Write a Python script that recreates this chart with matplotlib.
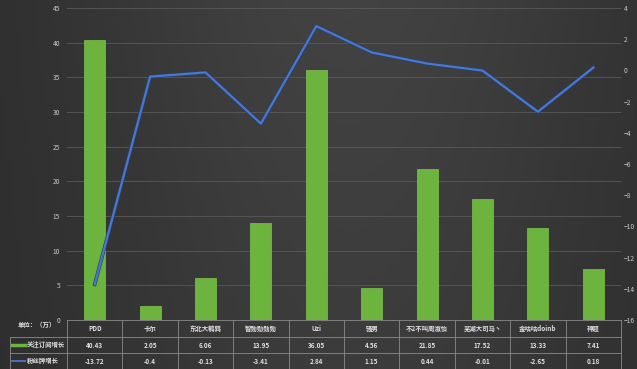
import matplotlib
matplotlib.use('Agg')
import matplotlib.pyplot as plt
import matplotlib.patheffects as pe
import numpy as np

plt.rcParams['font.family'] = ['Noto Sans CJK SC', 'DejaVu Sans']

names = ['PDD', '卡尔', '东北大鹌鹑', '智勋勋勋勋', 'Uzi', '骚男', '不2不叫周淑怡', '芜湖大司马丶', '金咕咕doinb', '神超']
subs = [40.43, 2.05, 6.06, 13.95, 36.05, 4.56, 21.85, 17.52, 13.33, 7.41]
fans = [-13.72, -0.4, -0.13, -3.41, 2.84, 1.15, 0.44, -0.01, -2.65, 0.18]
sub_label = '关注订阅增长'
fan_label = '粉丝牌增长'

W, H = 637, 369
fig = plt.figure(figsize=(W / 100, H / 100), dpi=100)

# background gradient
bg = fig.add_axes([0, 0, 1, 1], zorder=-10)
gx = np.linspace(0, 1, 200)
gy = np.linspace(0, 1, 120)
X, Y = np.meshgrid(gx, gy)
shade = 0.17 + 0.09 * np.exp(-((X - 0.55) ** 2) / 0.2) * (0.7 + 0.3 * Y)
bg.imshow(np.dstack([shade, shade, shade]), aspect='auto', extent=[0, 1, 0, 1], origin='lower')
bg.set_axis_off()


def fx(px):
    return px / W


def fy(py):
    return 1 - py / H


left, right, top, bottom = 67, 621, 8, 320
ax = fig.add_axes([fx(left), fy(bottom), fx(right) - fx(left), fy(top) - fy(bottom)])
ax.patch.set_alpha(0)
x = np.arange(len(names))
ax.bar(x, subs, width=0.38, color='#6db43f', edgecolor='#7fc452', linewidth=0.5, zorder=2)
ax.set_xlim(-0.5, len(names) - 0.5)
ax.set_ylim(0, 45)
ax.set_yticks(range(0, 46, 5))
ax.set_xticks([])
ax.grid(axis='y', color='#595959', linewidth=0.6, zorder=0)
for s in ax.spines.values():
    s.set_visible(False)
ax.tick_params(axis='y', length=0, labelsize=4.8, labelcolor='#c8c8c8', pad=5)

ax2 = ax.twinx()
ax2.plot(x, fans, color='#4a78cc', linewidth=1.6, zorder=3,
         path_effects=[pe.Stroke(linewidth=2.6, foreground='#2a3f6e'), pe.Normal()])
ax2.set_ylim(-16, 4)
ax2.set_yticks(range(-16, 5, 2))
for s in ax2.spines.values():
    s.set_visible(False)
ax2.tick_params(axis='y', length=0, labelsize=4.8, labelcolor='#c8c8c8', pad=2)

# data table below the plot
line_c = '#8a8a8a'
rows_y = [320, 337, 353, 369]
col_w = (right - left) / len(names)
tx = dict(color='#e0e0e0', fontsize=4.6, ha='center', va='center', fontweight='bold')
fig.add_artist(plt.Line2D([fx(left), fx(right)], [fy(320), fy(320)], color=line_c, lw=0.6))
for yy in rows_y[1:3]:
    fig.add_artist(plt.Line2D([fx(10), fx(right)], [fy(yy), fy(yy)], color=line_c, lw=0.6))
fig.add_artist(plt.Line2D([fx(10), fx(right)], [fy(368.5), fy(368.5)], color=line_c, lw=0.6))
fig.add_artist(plt.Line2D([fx(10), fx(10)], [fy(337), fy(368.5)], color=line_c, lw=0.6))
for i in range(len(names) + 1):
    xx = left + i * col_w
    fig.add_artist(plt.Line2D([fx(xx), fx(xx)], [fy(320), fy(368.5)], color=line_c, lw=0.6))
for i, n in enumerate(names):
    cx = fx(left + (i + 0.5) * col_w)
    fig.text(cx, fy(328.5), n, **tx)
    fig.text(cx, fy(345), f'{subs[i]}', **tx)
    fig.text(cx, fy(361), f'{fans[i]}', **tx)

lt = dict(color='#e0e0e0', fontsize=4.6, va='center', fontweight='bold')
fig.text(fx(18), fy(325), '单位：（万）', **lt)
fig.add_artist(plt.Line2D([fx(12), fx(25)], [fy(345), fy(345)], color='#6db43f', lw=2.5))
fig.text(fx(27), fy(345), sub_label, **lt)
fig.add_artist(plt.Line2D([fx(12), fx(25)], [fy(361), fy(361)], color='#4a78cc', lw=1.3))
fig.text(fx(27), fy(361), fan_label, **lt)

fig.savefig('out.png', dpi=100)
